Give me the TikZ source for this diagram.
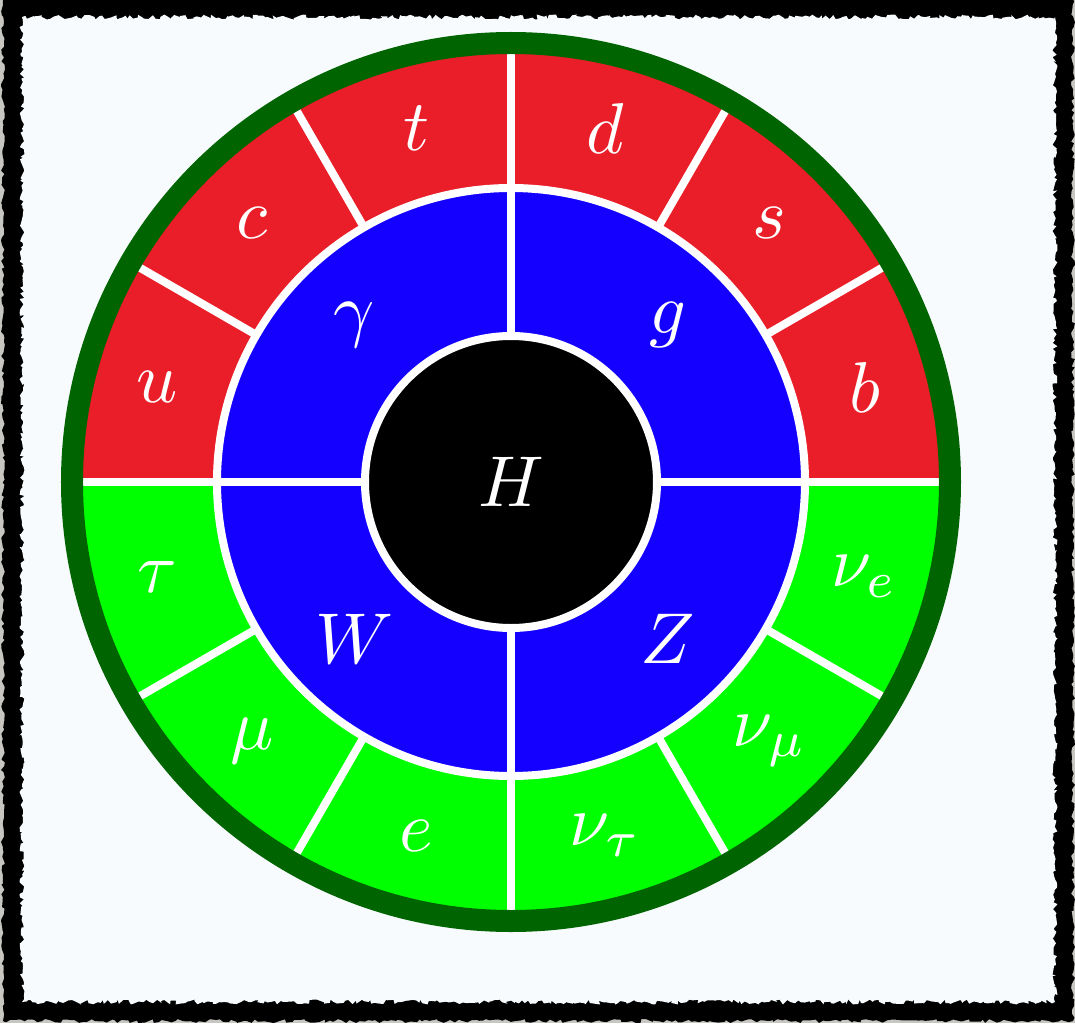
\documentclass[tikz,border=0pt]{standalone}
\usetikzlibrary{decorations.pathmorphing}
\definecolor{redc}{RGB}{233,30,40}
\definecolor{greenc}{RGB}{0,255,0}
\definecolor{bluec}{RGB}{20,0,255}
\definecolor{darkg}{RGB}{0,100,0}
\definecolor{bgc}{RGB}{247,251,253}
\definecolor{outerg}{RGB}{200,198,192}
\begin{document}
\begin{tikzpicture}[x=1pt,y=1pt,
  lbl/.style={text=white,inner sep=0pt,scale=7.2},
  sepline/.style={white,line width=8pt}]
\useasboundingbox (-511,-541) rectangle (564,482);
\fill[outerg] (-511,-541) rectangle (564,482);
\fill[black, decorate, decoration={random steps,segment length=4pt,amplitude=2pt}] (-508,484) rectangle (562,-539);
\fill[bgc, decorate, decoration={random steps,segment length=3pt,amplitude=2.5pt}] (-489,465) rectangle (544,-520);
% sectors
\fill[redc] (0,0) -- (0:430) arc[start angle=0,end angle=180,radius=430] -- cycle;
\fill[greenc] (0,0) -- (180:430) arc[start angle=180,end angle=360,radius=430] -- cycle;
\fill[bluec] (0,0) circle[radius=294];
\fill[black] (0,0) circle[radius=146];
\foreach \a in {30,60,120,150,210,240,300,330} \draw[sepline] (\a:294) -- (\a:430);
\foreach \a in {0,90,180,270} \draw[sepline] (\a:146) -- (\a:430);
\draw[sepline] (0,0) circle[radius=294];
\draw[sepline] (0,0) circle[radius=146];
\draw[darkg, line width=22pt] (0,0) circle[radius=439];
% labels
\foreach \a/\l/\n in {165/u/u, 135/c/c, 105/t/t, 75/d/d, 45/s/s, 15/b/b,
  195/\tau/tau, 225/\mu/mu, 255/e/e, 285/\nu_\tau/nutau, 315/\nu_\mu/numu, 345/\nu_e/nue}
  \node[lbl] (\n) at (\a:366) {$\l$};
\foreach \a/\l/\n in {135/\gamma/gamma, 45/g/g, 225/W/W, 315/Z/Z}
  \node[lbl] (\n) at (\a:222) {$\l$};
\node[lbl] (H) at (0,0) {$H$};
\end{tikzpicture}
\end{document}
